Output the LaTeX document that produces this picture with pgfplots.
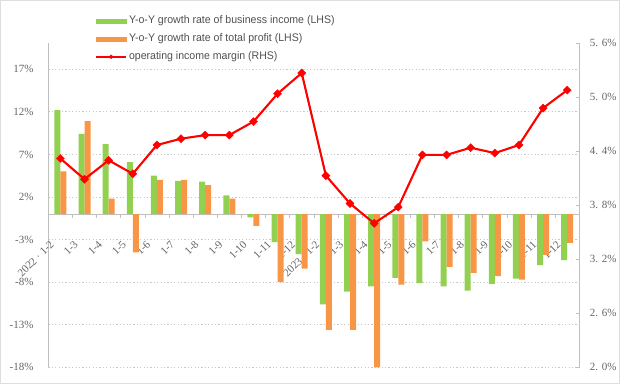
\documentclass[border=0pt]{standalone}
\usepackage{fontspec}
\setmainfont{Liberation Sans}
\newfontfamily\tickfont{Liberation Serif}
\newfontfamily\legfont[FakeStretch=0.96]{Liberation Sans}
\usepackage{pgfplots}
\usepackage{pgfplotstable}
\pgfplotsset{compat=1.18}
\definecolor{cgreen}{RGB}{146,208,80}
\definecolor{corange}{RGB}{247,150,70}
\definecolor{cred}{RGB}{255,0,0}
\definecolor{caxis}{RGB}{191,191,191}
\definecolor{cgrid}{RGB}{200,200,200}
\definecolor{ctick}{RGB}{100,100,100}
\definecolor{clegend}{RGB}{80,80,80}
\definecolor{cframe}{RGB}{222,222,222}

\pgfplotstableread{
x inc prof
0 12.2 5.0
1 9.4 10.9
2 8.2 1.8
3 6.1 -4.5
4 4.5 4.0
5 3.9 4.0
6 3.8 3.4
7 2.2 1.8
8 -0.4 -1.4
9 -3.3 -8.0
10 -4.7 -6.4
11 -10.6 -13.6
12 -9.1 -13.6
13 -8.5 -18.0
14 -7.5 -8.3
15 -8.1 -3.2
16 -8.5 -6.2
17 -9.0 -6.9
18 -8.2 -7.3
19 -7.6 -7.7
20 -6.0 -4.8
21 -5.4 -3.4
}\bars

\pgfplotstableread{
x m
0 4.32
1 4.09
2 4.30
3 4.15
4 4.47
5 4.54
6 4.58
7 4.58
8 4.73
9 5.04
10 5.27
11 4.13
12 3.82
13 3.60
14 3.78
15 4.36
16 4.36
17 4.44
18 4.38
19 4.47
20 4.88
21 5.08
}\margin

\pgfplotsset{
  greenleg/.style={legend image code/.code={\fill[cgreen] (0pt,-2pt) rectangle (30pt,2pt);}},
  orangeleg/.style={legend image code/.code={\fill[corange] (0pt,-2pt) rectangle (30pt,2pt);}},
  redleg/.style={legend image code/.code={\draw[cred, line width=1.8pt, mark=square*, mark size=1.4pt, mark options={rotate=45, line width=0.3pt}, mark repeat=2, mark phase=2] plot coordinates {(0pt,0pt) (15pt,0pt) (30pt,0pt)};}},
}

\begin{document}
\begin{tikzpicture}
\useasboundingbox (-48.3pt,-16.7pt) rectangle (571.7pt,367.3pt);
\draw[cframe, line width=1.2pt] (-47.7pt,-16.1pt) rectangle (571.1pt,366.7pt);
\begin{axis}[
  at={(0pt,0pt)}, anchor=south west,
  scale only axis, width=531pt, height=324pt,
  xmin=-0.5, xmax=21.5, ymin=-18, ymax=20.05,
  axis x line*=middle, axis y line*=left,
  axis line style={caxis, line width=0.8pt},
  ybar=0pt, bar width=6pt,
  xtick={0,...,21},
  xticklabels={2022 · 1-2,1-3,1-4,1-5,1-6,1-7,1-8,1-9,1-10,1-11,1-12,2023 · 1-2,1-3,1-4,1-5,1-6,1-7,1-8,1-9,1-10,1-11,1-12},
  major x tick style={draw=none},
  minor xtick={-0.5,0.5,...,21.5},
  minor x tick style={caxis, line width=0.6pt},
  minor tick length=4pt,
  tick align=outside,
  x tick label style={xshift=-6pt, yshift=-22pt, rotate=45, anchor=east, font=\tickfont\fontsize{11}{12}\selectfont, text=ctick},
  ytick={-18,-13,-8,-3,2,7,12,17},
  yticklabels={-18\%,-13\%,-8\%,-3\%,2\%,7\%,12\%,17\%},
  y tick label style={xshift=-7pt, font=\tickfont\fontsize{11}{12}\selectfont, text=ctick},
  major y tick style={draw=none},
  ymajorgrids,
  major grid style={cgrid, line width=0.7pt, dash pattern=on 1.2pt off 2.2pt},
]
\addplot[fill=cgreen, draw=none] table[x=x, y=inc] {\bars};
\addplot[fill=corange, draw=none] table[x=x, y=prof] {\bars};
\end{axis}
\begin{axis}[
  at={(0pt,0pt)}, anchor=south west,
  scale only axis, width=531pt, height=324pt,
  xmin=-0.5, xmax=21.5, ymin=2.0, ymax=5.6,
  axis x line=none, axis y line*=right,
  axis line style={caxis, line width=0.8pt},
  ytick={2.0,2.6,3.2,3.8,4.4,5.0,5.6},
  yticklabels={2. 0\%,2. 6\%,3. 2\%,3. 8\%,4. 4\%,5. 0\%,5. 6\%},
  y tick label style={xshift=7pt, font=\tickfont\fontsize{11}{12}\selectfont, text=ctick},
  major y tick style={caxis, line width=0.6pt},
  major tick length=3pt, tick align=inside,
  legend style={at={(axis description cs:0.088,1.091)}, anchor=north west, draw=none, fill=none,
    font=\legfont\fontsize{11}{12}\selectfont, text=clegend, row sep=4.5pt, inner sep=0pt},
  legend cell align=left,
]
\addlegendimage{greenleg}
\addlegendentry{Y-o-Y growth rate of business income (LHS)}
\addlegendimage{orangeleg}
\addlegendentry{Y-o-Y growth rate of total profit (LHS)}
\addplot[cred, line width=2.1pt, mark=square*, mark size=2.9pt,
  mark options={rotate=45, line width=0.3pt}, redleg]
  table[x=x, y=m] {\margin};
\addlegendentry{operating income margin (RHS)}
\end{axis}
\end{tikzpicture}
\end{document}
